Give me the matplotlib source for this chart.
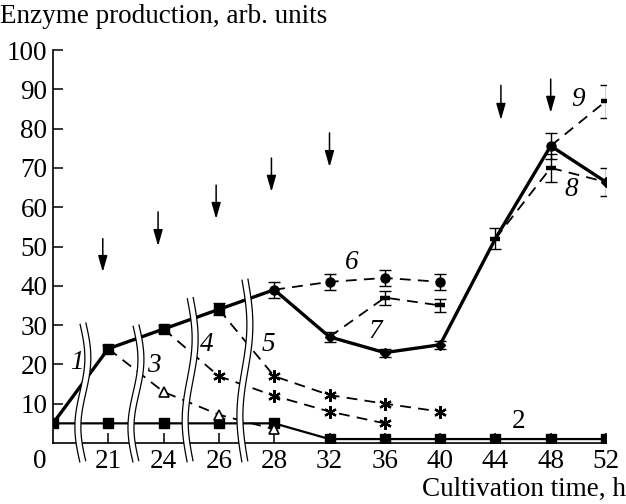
"""
Enzyme production vs cultivation time (broken time axis, curves 1-9)
"""
import numpy as np
import matplotlib
matplotlib.use('Agg')
import matplotlib.pyplot as plt

# time axis is drawn on evenly spaced slots, labelled with the real hours
hours = ['0', '21', '24', '26', '28', '32', '36', '40', '44', '48', '52']

# curve 1: main culture (solid, thick)
c1_y = [5, 24, 29, 34, 39, 27, 23, 25, 52, 75.6, 66.4]
c1_err = [0, 1, 1, 1.5, 2, 1.2, 1, 1, 0, 3.3, 3.5]
# curve 2: control (squares)
c2_y = [5, 5, 5, 5, 5, 1, 1, 1, 1, 1, 1]
# branch curves: (slot index, value)
c3_x, c3_y = [1, 2, 3, 4], [24, 13, 7.2, 3.5]
c4_x, c4_y = [2, 3, 4, 5, 6], [29, 17, 12, 8, 5]
c5_x, c5_y = [3, 4, 5, 6, 7], [34, 17, 12.2, 10, 8]
c6_x, c6_y, c6_err = [4, 5, 6, 7], [39, 41, 42, 41], [0, 2, 2, 2]
c7_x, c7_y, c7_err = [5, 6, 7], [27, 37, 35], [0, 1.8, 1.7]
c8_x, c8_y, c8_err = [8, 9, 10], [52, 70, 66.4], [2.7, 3.6, 0]
c9_x, c9_y, c9_err = [9, 10], [75.6, 87], [0, 4.2]

# arrows (feeding moments): slot, top, bottom
arrow_x = [0.9, 1.9, 2.95, 3.95, 5.0, 8.1, 9.0]
arrow_top = [52, 58.8, 65.6, 72.5, 78.9, 91, 92.6]
arrow_bot = [43.5, 50.1, 57, 63.9, 70.2, 82.2, 84]

# axis breaks: slot position and top value
break_x = [0.54, 1.5, 2.48, 3.47]
break_top = [30.5, 30, 37, 41.7]

# curve labels
lab_text = ['1', '2', '3', '4', '5', '6', '7', '8', '9']
lab_x = [0.43, 8.41, 1.83, 2.78, 3.89, 5.41, 5.82, 9.38, 9.5]
lab_y = [20.4, 5.4, 19.8, 25, 25, 46, 28.3, 64.4, 87.3]

plt.rcParams['font.family'] = ['Liberation Serif', 'DejaVu Serif']
FS = 19.5

fig = plt.figure(figsize=(6.26, 5.04), dpi=100)
ax = fig.add_axes([53 / 626, 1 - 443 / 504, (606 - 53) / 626, (443 - 50) / 504])

dash = dict(color='black', lw=1.3, dashes=(6, 4))
ebar = dict(fmt='none', ecolor='black', elinewidth=1.0, capsize=4,
            capthick=1.0, zorder=5)


def bars(xs, ys, errs):
    xs = [x for x, e in zip(xs, errs) if e]
    ys2 = [y for y, e in zip(ys, errs) if e]
    es = [e for e in errs if e]
    ax.errorbar(xs, ys2, yerr=es, **ebar)


# curve 2
ax.plot(range(len(c2_y)), c2_y, color='black', lw=1.6, marker='s', ms=7.5,
        mfc='black', mec='black', zorder=4)

# curve 1 line + markers
ax.plot(range(len(c1_y)), c1_y, color='black', lw=2.4, zorder=4)
bars(range(len(c1_y)), c1_y, c1_err)
c1_marks = [None, 's', 's', 's', 'o', 'D', 'D', 'D', None, 'o', 'D']
for i, m in enumerate(c1_marks):
    if m is None:
        continue
    ax.plot(i, c1_y[i], ls='none', marker=m, ms=6.5 if m != 'D' else 5.5,
            mfc='black', mec='black', zorder=6)

# dashed branches
ax.plot(c3_x, c3_y, **dash, zorder=3)
ax.plot(c3_x[1:], c3_y[1:], ls='none', marker='^', ms=7, mfc='white',
        mec='black', mew=1.2, zorder=6)
for cx, cy in [(c4_x, c4_y), (c5_x, c5_y)]:
    ax.plot(cx, cy, **dash, zorder=3)
    ax.plot(cx[1:], cy[1:], ls='none', marker=(6, 2, 0), ms=9, mec='black',
            mew=1.6, zorder=5)

ax.plot(c6_x, c6_y, **dash, zorder=3)
bars(c6_x, c6_y, c6_err)
ax.plot(c6_x[1:], c6_y[1:], ls='none', marker='o', ms=6.5, mfc='black',
        mec='black', zorder=6)

for cx, cy, ce, sl in [(c7_x, c7_y, c7_err, slice(1, None)),
                       (c8_x, c8_y, c8_err, slice(0, 2)),
                       (c9_x, c9_y, c9_err, slice(1, None))]:
    ax.plot(cx, cy, **dash, zorder=3)
    bars(cx, cy, ce)
    ax.plot(cx[sl], cy[sl], ls='none', marker='_', ms=7, mew=3.2,
            mec='black', zorder=6)

# arrows
for x, t, b in zip(arrow_x, arrow_top, arrow_bot):
    ax.annotate('', xy=(x, b), xytext=(x, t), annotation_clip=False,
                arrowprops=dict(arrowstyle='-|>,head_length=0.7,head_width=0.2',
                                mutation_scale=14, color='black', lw=1.1,
                                shrinkA=0, shrinkB=0))

# wavy double-line breaks
bottom = -4.8
amp = 0.09
for xc, top in zip(break_x, break_top):
    yy = np.linspace(bottom, top, 120)
    xx = xc + amp * np.sin(2 * np.pi * (top - yy) / (top - bottom))
    ax.plot(xx, yy, color='black', lw=5.2, solid_capstyle='butt',
            clip_on=False, zorder=10)
    ax.plot(xx, yy, color='white', lw=3.4, solid_capstyle='projecting',
            clip_on=False, zorder=11)

# curve numbers
for t, x, y in zip(lab_text, lab_x, lab_y):
    ax.text(x, y, t, fontsize=FS, style='italic' if t != '2' else 'normal',
            ha='center', va='center', zorder=12)

# axes
ax.set_xlim(0, len(hours) - 1)
ax.set_ylim(0, 100)
ax.set_xticks(range(1, len(hours)))
ax.set_xticklabels(hours[1:])
ax.set_yticks(range(10, 101, 10))
ax.tick_params(direction='in', length=7, width=1.1, labelsize=FS, color='black')
ax.tick_params(axis='x', pad=4)
ax.tick_params(axis='y', pad=4)
for s in ['top', 'right']:
    ax.spines[s].set_visible(False)
for s in ['left', 'bottom']:
    ax.spines[s].set_linewidth(1.2)
ax.annotate(hours[0], xy=(0, 0), xytext=(-13, -19), textcoords='offset pixels',
            ha='center', va='center', fontsize=FS, annotation_clip=False)

fig.text(0.0, 1 - 4 / 504, 'Enzyme production, arb. units', fontsize=FS,
         ha='left', va='top')
fig.text(1.0, 1 - 502 / 504, 'Cultivation time, h', fontsize=FS,
         ha='right', va='bottom')

fig.savefig('out.png', dpi=100)
